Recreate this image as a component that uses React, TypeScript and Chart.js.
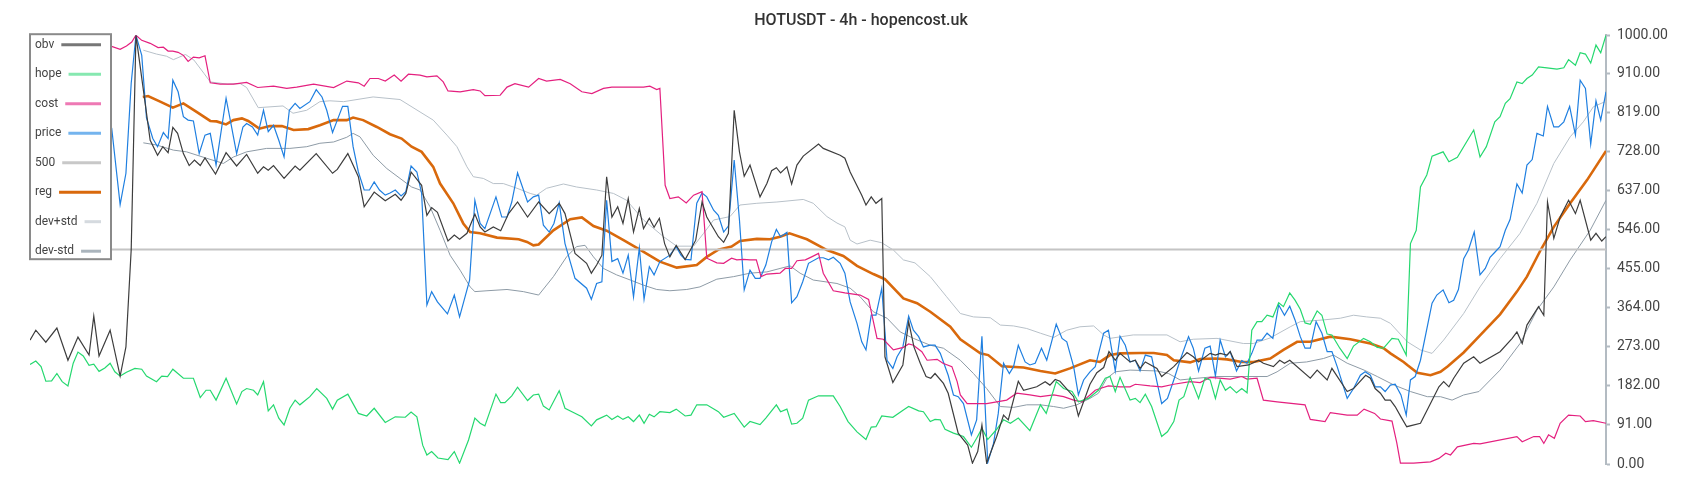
import React, { useEffect, useRef } from "react";
import { Chart, registerables } from "chart.js";

Chart.register(...registerables);

const TITLE = "HOTUSDT - 4h - hopencost.uk";
const Y_MIN = 0;
const Y_MAX = 1000;
const Y_TICKS = [0, 91, 182, 273, 364, 455, 546, 637, 728, 819, 910, 1000];
const X_MAX = 299;

const LABELS = ["obv", "hope", "cost", "price", "500", "reg", "dev+std", "dev-std"];
const LINE_COLORS = ["#3d3d3d", "#25d86f", "#e4207f", "#1f7fe0", "#c4c4c4", "#d9690c", "#b8c1c9", "#8e9ba6"];
const LEGEND_COLORS = ["#777777", "#86e8b0", "#ee79b4", "#74b4ee", "#c8c8c8", "#d9690c", "#d5dadf", "#aab4bc"];
const LINE_WIDTHS = [1.2, 1.2, 1.2, 1.2, 2, 2.6, 1, 1];

const obv = [[0,289],[1.1,312],[3,284],[5.1,317],[7.2,242],[9.1,296],[11.2,254],[12.1,345],[13.1,252],[15.2,312],[17.1,205],[18.2,273],[19.2,500],[20.1,1000],[22.8,755],[24.2,720],[25.2,740],[26.2,726],[27.1,785],[28,771],[29.1,724],[30.2,696],[31.2,709],[32.3,696],[33.2,714],[34.2,695],[35.2,676],[37.2,726],[39.2,695],[41.1,722],[43.2,678],[44.3,693],[45.2,685],[46.2,696],[48.2,666],[50.3,695],[51.2,685],[54.3,724],[57.4,678],[58.3,687],[60.3,724],[62.3,670],[63.4,600],[65.3,634],[67.4,614],[69.3,629],[70.4,615],[71.3,631],[72.3,681],[74.3,650],[75.3,580],[76.2,598],[77.3,587],[79.3,520],[80.5,534],[81.5,524],[82.9,538],[84.4,583],[85.4,553],[86.3,541],[87.9,553],[89.3,544],[90.8,584],[92.5,611],[94.4,576],[96.5,611],[98.5,584],[100.4,608],[101.5,584],[102.3,545],[103.4,491],[105.6,468],[106.5,445],[107.5,464],[108.5,487],[109.4,670],[110.4,576],[111.5,600],[112.5,561],[113.5,619],[114.5,541],[115.6,596],[116.4,549],[117.5,573],[118.4,552],[119.4,573],[120.4,514],[121.4,483],[122.6,510],[124.3,477],[126.3,522],[127.5,611],[128.4,576],[130.6,530],[131.6,517],[132.5,538],[133.6,825],[134.6,728],[135.5,671],[136.6,697],[138.5,623],[139.8,654],[140.7,684],[141.6,691],[142.4,679],[143.6,693],[144.5,653],[145.5,697],[146.7,718],[149.6,746],[150.5,736],[153.7,720],[154.6,713],[155.6,681],[157.8,627],[158.6,604],[159.6,623],[160.5,608],[161.6,619],[162.2,250],[163.7,190],[165.6,231],[166.7,332],[167.7,273],[168.9,235],[170,204],[170.9,200],[171.7,211],[173.3,188],[174.2,165],[176.1,72],[177.9,44],[178.8,2],[179.8,29],[180.6,91],[181.5,2],[183.4,64],[184.7,114],[185.6,103],[187.5,193],[188.5,172],[191,180],[192.6,192],[193.5,184],[194.5,197],[195.4,193],[198,157],[198.9,112],[201.1,186],[202.4,213],[203.7,225],[204.7,262],[205.9,242],[206.8,258],[208.7,238],[209.7,242],[210.6,223],[211.6,238],[213.8,223],[214.7,204],[217,227],[219.5,260],[220.7,250],[221.7,238],[223.9,258],[224.9,254],[225.8,258],[227.1,254],[227.7,262],[229,227],[231.2,231],[233.1,242],[234,235],[235.9,227],[237.1,242],[238,235],[239,242],[242.9,200],[244.2,219],[246.1,196],[247,223],[249.9,169],[251.1,176],[253.4,207],[254.3,200],[255.2,176],[256.2,165],[257.1,149],[258.1,149],[259,134],[260.1,110],[261.2,87],[263.8,95],[265.7,141],[267.3,180],[268.2,192],[269.2,180],[270.1,200],[272,235],[273.9,250],[275.1,235],[278.9,262],[281.2,293],[282.1,308],[283.1,281],[284,324],[286.2,367],[287.2,347],[287.9,611],[289.1,526],[290.3,576],[291.9,615],[293.2,584],[294.1,615],[296.1,522],[297.1,538],[298.2,520],[299,530]];

const hope = [[0,232],[1.1,240],[2.1,227],[3,193],[4.1,194],[5.1,211],[6.1,192],[7.2,182],[8.2,235],[9.1,261],[10.1,252],[11.2,230],[12.1,233],[13.1,216],[14.2,224],[15.2,235],[16.1,215],[17.1,205],[18.3,214],[19.9,223],[21.2,221],[22.1,205],[24,192],[25,205],[26.1,204],[27.1,221],[29.1,200],[31,200],[32.3,155],[33.4,172],[34.2,172],[35.3,149],[37.2,200],[39.2,140],[40.2,169],[41.1,176],[42.4,172],[43.2,161],[44.3,192],[45.2,124],[46.2,138],[47.2,107],[48.2,91],[49.3,130],[50.3,149],[51.2,138],[53.1,157],[54.4,176],[56.3,153],[57.4,128],[58.3,149],[60.3,163],[62.3,118],[63.9,112],[65.3,130],[67.4,97],[69.3,110],[71.2,109],[72.3,121],[73.4,110],[74.5,44],[75.3,21],[76.2,29],[77.4,14],[79.3,10],[80.5,29],[81.5,2],[83.2,56],[84.4,107],[85.4,95],[86.3,89],[88.4,163],[89.3,143],[90.1,143],[91.4,159],[92.5,179],[94.4,148],[95.5,161],[96.5,163],[97.4,135],[98.5,126],[100.4,171],[101.5,130],[103.1,120],[104.7,110],[106.5,89],[107.5,103],[109.4,114],[110.4,104],[111.5,112],[112.5,104],[113.5,110],[114.5,99],[115.6,114],[116.5,95],[117.5,116],[118.4,110],[119.5,122],[121.4,120],[122.6,128],[124.3,112],[125.4,114],[126.5,138],[128.4,138],[130.6,122],[131.6,109],[133.6,118],[135.5,86],[136.6,99],[138.5,92],[139.6,107],[141.6,138],[142.4,122],[143.6,128],[144.5,93],[145.5,95],[146.6,107],[147.7,149],[149.6,159],[152.4,159],[153.7,134],[155.2,99],[156.9,75],[158.6,57],[159.6,86],[160.5,87],[161.6,112],[163.7,109],[165.7,126],[166.7,134],[168.6,124],[169.5,122],[170.8,99],[171.7,104],[172.7,103],[173.6,81],[175.2,72],[177.1,64],[178.6,39],[179.6,60],[180.6,83],[181.7,57],[183.4,81],[184.7,103],[186,95],[187.5,107],[189.7,78],[191.7,138],[192.8,118],[194.7,192],[196.1,176],[197.7,169],[198.9,145],[200.8,153],[202.7,172],[204,200],[204.9,204],[205.9,169],[206.8,202],[208.7,149],[209.7,153],[210.6,143],[211.6,163],[212.8,134],[214.7,64],[215.8,75],[217,99],[218,149],[218.9,157],[220.1,202],[220.7,184],[221.7,153],[222.9,200],[223.9,196],[224.9,153],[225.8,196],[226.8,172],[227.7,180],[228.9,166],[229.9,176],[230.9,166],[231.8,312],[232.8,332],[233.7,332],[234.7,347],[235.8,343],[236.9,376],[237.8,367],[239,399],[240,382],[241,361],[241.9,329],[242.9,326],[244.2,357],[245.1,347],[246.1,303],[247,301],[248.5,270],[249.9,246],[251.1,275],[253,293],[254.3,285],[255.6,272],[256.8,270],[258.4,293],[259.6,291],[261.1,254],[261.9,514],[263,545],[263.8,646],[265,674],[266,718],[268.1,728],[269.2,705],[270.8,715],[273.9,779],[275.1,716],[276.3,740],[277.9,798],[278.9,810],[279.9,841],[280.8,852],[282.1,891],[283.1,887],[284,899],[285,907],[286.2,926],[287.8,924],[289.7,921],[291,924],[291.9,943],[293.2,930],[294.1,959],[295.1,956],[296.1,935],[297.1,977],[298,959],[299,1000]];

const cost = [[0,975],[4,968],[8,972],[12,970],[15.5,974],[17.1,967],[18.3,975],[19.3,984],[20.1,1000],[21.2,988],[22.8,981],[24.3,971],[25.3,972],[26.2,963],[27.1,963],[28.1,960],[29.1,953],[30,939],[31,949],[32.1,947],[33.2,952],[34.2,889],[36.1,886],[38.6,886],[41.1,890],[43.2,878],[46.2,881],[48.7,876],[50.6,879],[53.8,886],[57.6,878],[60.1,893],[62.3,889],[63.4,881],[64.5,899],[66.1,899],[67.4,893],[69.1,907],[70.4,893],[71.8,909],[74,907],[75.3,903],[77.2,905],[78.4,891],[79.3,870],[81.6,868],[84.1,873],[85.4,870],[86.3,859],[89.2,860],[90.5,879],[92,887],[94.6,879],[96.5,899],[98,893],[100.6,897],[102.5,887],[104.7,868],[106.6,864],[108.8,876],[110.4,879],[113.2,879],[116.4,879],[117.6,881],[118.9,873],[119.5,876],[120.5,650],[121.4,619],[123,623],[124.5,609],[125.9,627],[127.5,635],[128.4,480],[130.3,469],[131.6,468],[133.1,480],[134.1,476],[135.4,477],[136.6,476],[137.8,476],[138.7,437],[139.8,443],[142.3,445],[143.3,456],[144.5,456],[145.5,474],[147.1,476],[148.3,483],[149.6,491],[150.5,445],[152.4,404],[154.6,399],[157.5,394],[159.1,384],[160.7,293],[161.9,291],[163.8,266],[165.7,272],[166.7,280],[167.6,277],[169.2,262],[170.2,242],[172.1,244],[173.2,235],[174.9,227],[175.9,192],[176.5,161],[177.8,141],[181.5,141],[185.3,149],[187.2,165],[189.7,161],[191.7,157],[194.2,161],[196.1,157],[198,149],[199.6,145],[201.1,161],[202.1,172],[203,176],[204.6,182],[206.8,180],[208.7,180],[209.7,186],[212.5,182],[214.7,180],[217,186],[220.1,192],[222,190],[223.9,202],[227.7,198],[229.9,204],[230.9,198],[232.8,200],[234,149],[236.6,145],[241.9,138],[242.9,104],[245.7,99],[246.7,120],[249.9,114],[251.8,114],[253.1,128],[255.1,118],[256.2,105],[258.4,100],[259.3,50],[260,2],[262.5,2],[265.7,5],[267.3,13],[268.6,25],[269.5,21],[270.8,40],[273.9,48],[275.1,47],[282.1,64],[283.1,52],[285.3,64],[286.4,64],[287.2,48],[288.1,68],[289.2,60],[290.3,95],[291.9,114],[294.1,112],[295.1,99],[296.6,101],[299,95]];

const price = [[0,830],[5,860],[10,840],[14,810],[15.5,783],[17.1,605],[18.2,678],[19.2,888],[20.1,1000],[21.2,953],[22.1,807],[23.3,759],[24.2,740],[25.3,773],[26.2,759],[27.1,895],[28.1,868],[29.1,810],[30,802],[31,800],[32.1,724],[33.2,767],[34.2,771],[35.3,697],[37.2,853],[38,802],[39.2,724],[40.4,786],[41.1,794],[42.2,786],[43.2,767],[44.3,825],[45.2,775],[46.2,790],[47.2,755],[48.2,716],[49.2,825],[50.3,841],[51.2,829],[53.1,845],[54.3,873],[55.4,856],[56.3,825],[57.4,773],[58.3,802],[59.3,834],[60.3,834],[61.3,740],[62.3,681],[63.4,639],[64.4,639],[65.3,658],[66.3,639],[67.4,627],[68.3,632],[69.3,639],[70.4,625],[71.3,635],[72.3,695],[73.4,681],[74.3,631],[75.3,371],[76.2,402],[77.3,378],[79.2,350],[80.5,394],[81.5,343],[83.4,429],[84.4,615],[85.4,561],[86.3,549],[88.4,623],[89.5,576],[90.5,576],[91.4,611],[92.5,679],[94.4,611],[95.5,623],[96.5,627],[97.4,557],[98.5,541],[99.4,561],[100.4,609],[101.5,514],[103.4,433],[105.6,410],[106.5,384],[107.5,421],[108.5,425],[109.4,615],[110.4,472],[111.5,479],[112.5,445],[113.5,487],[114.5,390],[115.6,504],[116.5,384],[117.5,460],[118.4,441],[119.5,472],[121.4,487],[122.6,507],[123.5,487],[124.3,477],[125.4,476],[126.5,608],[127.5,632],[128.4,623],[129.7,592],[130.6,580],[131.6,541],[132.5,555],[133.6,709],[134.6,569],[135.5,406],[136.6,452],[137.6,433],[138.5,433],[139.6,464],[140.7,518],[141.6,547],[142.4,530],[143.6,540],[144.5,376],[145.5,390],[146.6,425],[147.7,468],[149.6,481],[150.5,481],[151.5,476],[152.4,482],[153.7,468],[154.6,445],[155.6,378],[156.9,328],[157.8,285],[158.6,266],[159.6,347],[160.5,347],[161.6,410],[162.6,242],[163.7,223],[164.5,250],[165.6,273],[166.7,345],[167.6,312],[168.6,297],[169.5,273],[170.8,277],[171.7,277],[172.7,258],[174.2,207],[175.2,161],[176.1,157],[177.1,141],[178.6,68],[179.6,103],[180.6,298],[181.7,3],[182.8,48],[183.7,118],[184.7,235],[185.8,211],[186.6,227],[187.5,277],[188.8,238],[189.7,231],[190.7,235],[191.9,270],[192.9,242],[194.7,326],[195.8,293],[196.7,285],[198,227],[198.9,161],[199.9,196],[201.1,215],[202.1,227],[203.7,305],[204.6,312],[205.9,217],[206.8,298],[207.8,277],[208.7,238],[209.7,242],[210.6,217],[211.6,254],[212.8,250],[213.8,192],[214.7,141],[215.8,153],[217,196],[218.2,242],[219.8,297],[220.7,270],[221.7,217],[222.9,270],[223.9,275],[224.9,205],[225.8,289],[226.8,250],[227.7,262],[228.9,217],[229.9,241],[230.9,235],[231.8,258],[232.8,289],[233.7,289],[234.7,305],[235.8,293],[236.9,371],[238,347],[239,368],[240,336],[241,297],[241.9,270],[242.9,270],[244,332],[245.1,305],[246.1,262],[247,262],[248,227],[249.9,153],[251.1,176],[252.4,207],[253.3,215],[254.3,207],[255.2,180],[256.2,180],[257.1,169],[258.1,184],[259,186],[260.1,161],[261.1,114],[261.9,196],[262.8,204],[263.8,242],[266,375],[266.9,394],[268.1,406],[269.2,376],[270.1,382],[271,407],[272,479],[272.9,499],[274,541],[275.1,441],[276.1,456],[277,482],[278,495],[278.9,507],[279.9,545],[280.8,570],[282.1,653],[283.1,632],[284,697],[285,710],[285.9,771],[287.1,765],[287.9,834],[289.1,786],[290,786],[291,798],[292.1,834],[293.2,767],[294.1,895],[295.1,876],[296.1,746],[297.1,847],[298,802],[299,868]];

const level500 = [[0,500],[299,500]];

const reg = [[21.4,856],[22.4,858],[24.7,845],[27.1,831],[29.1,841],[31.6,821],[34.2,800],[35.4,799],[37.2,792],[38.6,802],[40.2,806],[41.4,800],[43.5,782],[45.5,788],[47.8,788],[50,779],[52.8,781],[55,790],[57.6,802],[60.1,802],[61.3,808],[63.2,802],[65.8,786],[68.3,769],[70.5,759],[72.4,740],[74.3,728],[76.5,693],[77.8,654],[80.3,608],[82.2,561],[83.5,541],[85.4,538],[88.6,528],[92.7,524],[94.3,518],[95.5,510],[96.5,512],[99.3,545],[102.5,571],[104.7,575],[106.9,555],[109.4,544],[112.6,522],[115.7,500],[119.5,472],[122.7,458],[126.5,464],[128.4,483],[130.6,500],[133.1,507],[134.7,520],[137.9,525],[140.4,524],[142.3,530],[144.1,538],[147.4,524],[151.2,499],[154.3,485],[156.9,462],[160,443],[162.2,431],[165.7,386],[168.3,375],[170.8,355],[174.6,320],[176.5,291],[180.3,258],[181.8,254],[184.4,228],[188.5,225],[191.7,217],[194.5,211],[197.3,223],[201.1,242],[203,238],[204.9,254],[206.8,258],[210.6,259],[213.2,259],[215.7,254],[217,242],[220.1,237],[222,245],[224.9,246],[227.1,244],[229.9,238],[232.1,238],[235.3,246],[237.8,266],[240.4,285],[242.9,285],[246.7,297],[250.5,291],[254.3,281],[256.8,270],[258.1,258],[260.6,238],[261.3,231],[263.2,213],[265.7,207],[267.6,215],[269,228],[272,260],[275.1,300],[278.9,349],[282.1,402],[284,437],[286.6,499],[289.1,553],[292.2,608],[295.4,662],[299,730]];

const devPlus = [[21.5,965],[24,956],[25.9,951],[27.2,943],[29.5,955],[31.1,942],[33,911],[34.2,891],[37.4,886],[39.9,887],[41.1,878],[43.3,831],[48,835],[49.9,818],[52.5,825],[55,845],[56.9,847],[59.5,845],[65.1,856],[70.2,850],[74,821],[76.5,802],[79.1,767],[81,740],[82.9,693],[84.1,670],[86,666],[87.9,654],[89.8,654],[92.4,643],[94.9,631],[96.1,627],[98,643],[101.2,653],[103.7,646],[107.5,639],[110.7,631],[113.2,615],[116.4,569],[120.2,530],[122.7,508],[125.9,508],[127.8,538],[129.7,569],[132.8,577],[134.7,604],[137.9,608],[141.7,611],[146.7,617],[148.6,608],[151.2,577],[153.1,562],[154.6,553],[155.6,522],[156.9,513],[159.4,522],[161.6,516],[163.8,499],[165.7,476],[167.9,469],[170.8,437],[173.9,390],[176.5,351],[179,343],[182.2,341],[184.1,324],[186.6,322],[189.1,316],[191.7,305],[194.2,295],[196.7,312],[199.2,320],[201.8,322],[203.7,301],[204.9,293],[209.3,301],[215.7,301],[218.2,285],[220.7,291],[225.2,293],[230.2,281],[232.1,281],[235.3,294],[239.1,320],[241,332],[245.4,336],[248.6,340],[251.1,347],[253.6,343],[256.2,340],[258.1,328],[261.3,285],[263.8,266],[266,258],[268.2,289],[272,351],[275.1,413],[278.9,479],[282.7,538],[285.9,608],[289.1,701],[292.2,763],[294.7,798],[296.6,833],[299,846]];

const devMinus = [[21.5,749],[24,744],[27.2,732],[29.7,728],[33.5,713],[36.7,701],[38.6,716],[41.1,728],[44.9,736],[49.3,736],[52.5,740],[55,748],[57.6,751],[60.1,762],[61.3,771],[62.6,763],[65.1,720],[67.7,689],[70.2,666],[72.4,646],[74,639],[75.9,600],[77.8,545],[79.7,487],[81.6,452],[83.5,413],[84.4,402],[86.7,404],[90.5,407],[93.6,402],[96.5,394],[99.3,437],[101.8,483],[103.7,507],[105.3,510],[106.9,483],[108.8,456],[111.3,441],[113.9,429],[116.4,417],[118.9,407],[121.4,404],[124.6,407],[127.1,413],[130.3,431],[133.5,437],[136.6,445],[139.8,448],[142.3,456],[144.2,462],[146.1,445],[148.6,429],[153.1,421],[155.6,410],[157.5,390],[160,355],[162.6,340],[165.1,308],[167.6,293],[170.8,277],[173.3,270],[176.5,242],[179,211],[181.5,176],[184.1,134],[186.6,132],[189.1,138],[191.7,138],[194.2,134],[196.1,130],[198.6,138],[201.1,153],[202.7,165],[204.3,200],[205.9,215],[208.7,219],[213.8,217],[216,211],[218.2,196],[221.4,200],[225.2,204],[229.6,204],[234.7,204],[236.6,215],[239.1,235],[242.2,238],[245.4,246],[247.3,254],[249.9,235],[253.1,219],[255.6,204],[258.8,184],[261.9,169],[265.1,157],[267.6,157],[269.8,149],[272,161],[274.9,169],[278.9,219],[282.7,281],[285.9,359],[289.1,413],[292.2,476],[296,545],[299,615]];

const SERIES = [obv, hope, cost, price, level500, reg, devPlus, devMinus];

const boxLegend = {
  id: "boxLegend",
  afterDatasetsDraw(chart: any) {
    const { ctx, chartArea } = chart;
    const x0 = chartArea.left;
    const y0 = chartArea.top - 1;
    const w = 81;
    const h = 225;
    ctx.save();
    ctx.fillStyle = "#ffffff";
    ctx.fillRect(x0, y0, w, h);
    ctx.strokeStyle = "#8a8a8a";
    ctx.lineWidth = 2;
    ctx.strokeRect(x0, y0, w, h);
    ctx.font = "12px Roboto";
    ctx.textBaseline = "middle";
    ctx.textAlign = "left";
    chart.data.datasets.forEach((ds: any, i: number) => {
      const y = y0 + 10.5 + i * 29.5;
      ctx.fillStyle = "#444444";
      ctx.fillText(ds.label, x0 + 5, y);
      const tw = ctx.measureText(ds.label).width;
      ctx.strokeStyle = LEGEND_COLORS[i];
      ctx.lineWidth = 3;
      ctx.beginPath();
      ctx.moveTo(x0 + 5 + tw + 7, y);
      ctx.lineTo(x0 + 71, y);
      ctx.stroke();
    });
    ctx.restore();
  },
};

export default function App() {
  const ref = useRef<HTMLCanvasElement | null>(null);
  useEffect(() => {
    if (!ref.current) return;
    const chart = new Chart(ref.current, {
      type: "line",
      data: {
        datasets: SERIES.map((s, i) => ({
          label: LABELS[i],
          data: s.map(([x, y]) => ({ x, y })),
          borderColor: LINE_COLORS[i],
          backgroundColor: LINE_COLORS[i],
          borderWidth: LINE_WIDTHS[i],
          pointRadius: 0,
          tension: 0,
          fill: false,
        })),
      },
      options: {
        animation: false,
        responsive: true,
        maintainAspectRatio: false,
        layout: { padding: { left: 22, right: 0, top: 0, bottom: 28 } },
        plugins: {
          legend: { display: false },
          tooltip: { enabled: false },
          title: {
            display: true,
            text: TITLE,
            color: "#333333",
            font: { family: "Roboto", size: 16, weight: "500" },
            padding: { top: 3, bottom: 5 },
          },
        },
        scales: {
          x: { type: "linear", display: false, min: 0, max: X_MAX },
          y: {
            position: "right",
            min: Y_MIN,
            max: Y_MAX,
            afterBuildTicks: (scale: any) => {
              scale.ticks = Y_TICKS.map((v) => ({ value: v }));
            },
            afterFit: (scale: any) => {
              scale.width = 86;
            },
            border: { display: true, color: "#b3bbc2", width: 2 },
            grid: {
              drawOnChartArea: false,
              drawTicks: true,
              tickLength: 4,
              tickColor: "#b3bbc2",
              tickWidth: 2,
            },
            ticks: {
              padding: 7,
              color: "#444444",
              font: { family: "Roboto", size: 14 },
              callback: (v: any) => Number(v).toFixed(2),
            },
          },
        },
      },
      plugins: [boxLegend],
    });
    return () => chart.destroy();
  }, []);
  return (
    <div style={{ width: 1684, height: 484, position: "relative" }}>
      <canvas ref={ref} />
    </div>
  );
}
